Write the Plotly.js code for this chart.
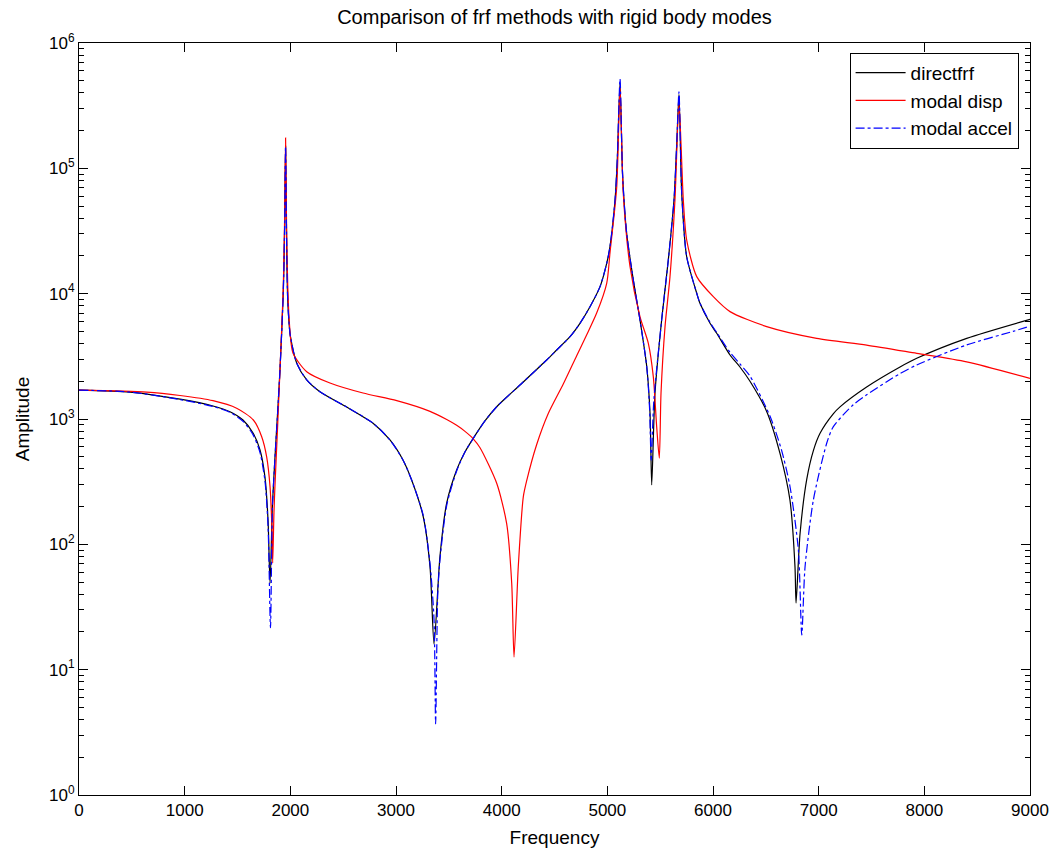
<!DOCTYPE html>
<html>
<head>
<meta charset="utf-8">
<script src="https://cdn.plot.ly/plotly-3.0.1.min.js"></script>
<style>
html,body{margin:0;padding:0;background:#fff;}
#chart{width:1060px;height:855px;}
</style>
</head>
<body>
<div id="chart"></div>
<script>
// ---- data ----
const freqDirect = [0, 483, 956, 1268, 1429, 1552, 1647, 1713, 1760, 1789, 1808, 1830, 1855, 1879, 1902, 1933, 1945, 1955, 1965, 1975, 1990, 2000, 2060, 2155, 2280, 2530, 2780, 2943, 3066, 3148, 3258, 3322, 3360, 3416, 3480, 3574, 3650, 3731, 3840, 3953, 4173, 4426, 4521, 4647, 4741, 4836, 4931, 4994, 5025, 5073, 5094, 5120, 5145, 5183, 5246, 5309, 5373, 5404, 5420, 5451, 5514, 5577, 5631, 5657, 5678, 5704, 5751, 5846, 5877, 5972, 6035, 6161, 6255, 6350, 6508, 6634, 6728, 6776, 6786, 6824, 6887, 6950, 7013, 7138, 7202, 7454, 7770, 7928, 8401, 9000];
const ampDirect = [1700, 1640, 1440, 1270, 1143, 982, 773, 566, 344, 156, 49, 200, 500, 1100, 2460, 10000, 30000, 150000, 25000, 9000, 5500, 4600, 2800, 2050, 1650, 1250, 930, 680, 471, 326, 166, 66, 16, 80, 214, 392, 540, 700, 960, 1253, 1867, 2958, 3555, 4540, 5800, 7870, 11380, 17460, 23700, 55900, 117000, 480000, 86000, 30300, 12850, 6170, 2614, 1110, 298, 1611, 6170, 18570, 55900, 158000, 390000, 63000, 19700, 10070, 8370, 5800, 4830, 3240, 2600, 2000, 1150, 532, 226, 66, 34, 122, 330, 560, 770, 1100, 1250, 1800, 2600, 3050, 4400, 6240];

const freqDisp = [0, 640, 956, 1268, 1492, 1650, 1729, 1776, 1808, 1825, 1833, 1845, 1855, 1879, 1902, 1933, 1945, 1955, 1965, 1975, 1990, 2025, 2155, 2375, 2688, 3007, 3322, 3480, 3574, 3650, 3731, 3795, 3953, 4047, 4095, 4117, 4157, 4205, 4240, 4330, 4440, 4583, 4710, 4805, 4899, 4994, 5025, 5089, 5120, 5151, 5215, 5309, 5388, 5435, 5467, 5492, 5508, 5546, 5593, 5640, 5678, 5719, 5751, 5846, 6003, 6161, 6508, 6981, 7454, 7928, 8401, 9000];
const ampDisp = [1700, 1640, 1540, 1400, 1220, 982, 722, 499, 288, 140, 71, 180, 300, 850, 2460, 11000, 35000, 175000, 30000, 12000, 6000, 3363, 2386, 1937, 1611, 1400, 1150, 990, 890, 800, 695, 590, 307, 147, 49, 12.6, 66, 240, 330, 620, 1100, 1900, 3200, 4700, 7000, 12100, 21130, 71400, 448000, 63000, 16400, 6560, 4020, 2177, 867, 486, 1603, 5460, 13670, 55900, 330000, 55900, 26800, 13670, 9460, 7190, 5460, 4400, 3890, 3340, 2860, 2110];

const freqAccel = [0, 483, 956, 1268, 1429, 1552, 1647, 1713, 1760, 1789, 1812, 1830, 1855, 1879, 1902, 1933, 1945, 1955, 1965, 1975, 1990, 2000, 2060, 2155, 2280, 2530, 2780, 2943, 3066, 3148, 3258, 3322, 3360, 3375, 3395, 3416, 3480, 3574, 3650, 3731, 3840, 3953, 4173, 4426, 4521, 4647, 4741, 4836, 4931, 4994, 5025, 5073, 5094, 5120, 5145, 5183, 5246, 5309, 5373, 5400, 5415, 5440, 5514, 5577, 5631, 5657, 5678, 5704, 5751, 5846, 5877, 5972, 6035, 6161, 6255, 6350, 6540, 6650, 6729, 6808, 6840, 6871, 6950, 7076, 7139, 7328, 7454, 7644, 7770, 7928, 8401, 8839, 9000];
const ampAccel = [1700, 1640, 1430, 1260, 1130, 960, 750, 540, 320, 140, 21.6, 190, 500, 1100, 2460, 10000, 30000, 150000, 25000, 9000, 5500, 4600, 2800, 2050, 1650, 1250, 930, 680, 471, 326, 170, 70, 25, 3.7, 40, 75, 205, 385, 540, 700, 960, 1253, 1867, 2958, 3555, 4540, 5800, 7870, 11380, 17460, 23700, 55900, 117000, 516000, 86000, 30300, 12850, 6170, 2614, 1200, 470, 1400, 6170, 18570, 55900, 158000, 408000, 63000, 19700, 10070, 8370, 5900, 4900, 3400, 2750, 2200, 1050, 560, 288, 90, 18.9, 66, 226, 640, 870, 1300, 1560, 1985, 2300, 2700, 3900, 5000, 5500];

const seriesNames = ['directfrf', 'modal disp', 'modal accel'];
const xTickVals = [0, 1000, 2000, 3000, 4000, 5000, 6000, 7000, 8000, 9000];
const yTickVals = [1, 10, 100, 1000, 10000, 100000, 1000000];
const yTickText = ['10<sup>0</sup>', '10<sup>1</sup>', '10<sup>2</sup>', '10<sup>3</sup>', '10<sup>4</sup>', '10<sup>5</sup>', '10<sup>6</sup>'];

// minor log ticks (2..9 in each decade)
const yMinorVals = [];
for (let d = 0; d < 6; d++) {
  for (let m = 2; m <= 9; m++) yMinorVals.push(m * Math.pow(10, d));
}

const FONT = 'Liberation Sans, Arial, Helvetica, sans-serif';

const traces = [
  {x: freqDirect, y: ampDirect, name: seriesNames[0], type: 'scatter', mode: 'lines',
   line: {color: '#000000', width: 1.2, shape: 'spline', smoothing: 0.7}},
  {x: freqDisp, y: ampDisp, name: seriesNames[1], type: 'scatter', mode: 'lines',
   line: {color: '#ff0000', width: 1.2, shape: 'spline', smoothing: 0.7}},
  {x: freqAccel, y: ampAccel, name: seriesNames[2], type: 'scatter', mode: 'lines',
   line: {color: '#0000ff', width: 1.2, dash: 'dashdot', shape: 'spline', smoothing: 0.7}}
];

const axisFont = {family: FONT, size: 17, color: '#000'};

const layout = {
  width: 1060, height: 855,
  margin: {l: 79, r: 30, t: 43, b: 60},
  paper_bgcolor: '#ffffff', plot_bgcolor: '#ffffff',
  font: {family: FONT, size: 17, color: '#000'},
  title: {
    text: 'Comparison of frf methods with rigid body modes',
    x: 0.5, xref: 'paper', xanchor: 'center',
    y: 1 - 17 / 855, yref: 'container', yanchor: 'middle',
    font: {family: FONT, size: 20, color: '#000'}
  },
  xaxis: {
    range: [0, 9000], tickmode: 'array', tickvals: xTickVals,
    ticks: 'inside', ticklen: 9, tickwidth: 1, tickcolor: '#000',
    showline: true, linecolor: '#000', linewidth: 1, mirror: 'allticks',
    showgrid: false, zeroline: false, tickfont: axisFont,
    title: {text: 'Frequency', font: {family: FONT, size: 19, color: '#000'}, standoff: 11}
  },
  yaxis: {
    type: 'log', range: [0, 6], tickmode: 'array', tickvals: yTickVals, ticktext: yTickText,
    ticks: 'inside', ticklen: 9, tickwidth: 1, tickcolor: '#000',
    minor: {tickmode: 'array', tickvals: yMinorVals, ticks: 'inside', ticklen: 5, tickcolor: '#000', showgrid: false},
    showline: true, linecolor: '#000', linewidth: 1, mirror: 'allticks',
    showgrid: false, zeroline: false, tickfont: axisFont,
    title: {text: 'Amplitude', font: {family: FONT, size: 19, color: '#000'}, standoff: 14}
  },
  showlegend: true,
  legend: {
    x: 0.988, y: 0.987, xanchor: 'right', yanchor: 'top',
    bgcolor: '#ffffff', bordercolor: '#000', borderwidth: 1,
    font: {family: FONT, size: 19, color: '#000'},
    tracegroupgap: 0, itemwidth: 50
  }
};

Plotly.newPlot('chart', traces, layout, {displayModeBar: false, staticPlot: true});
</script>
</body>
</html>
